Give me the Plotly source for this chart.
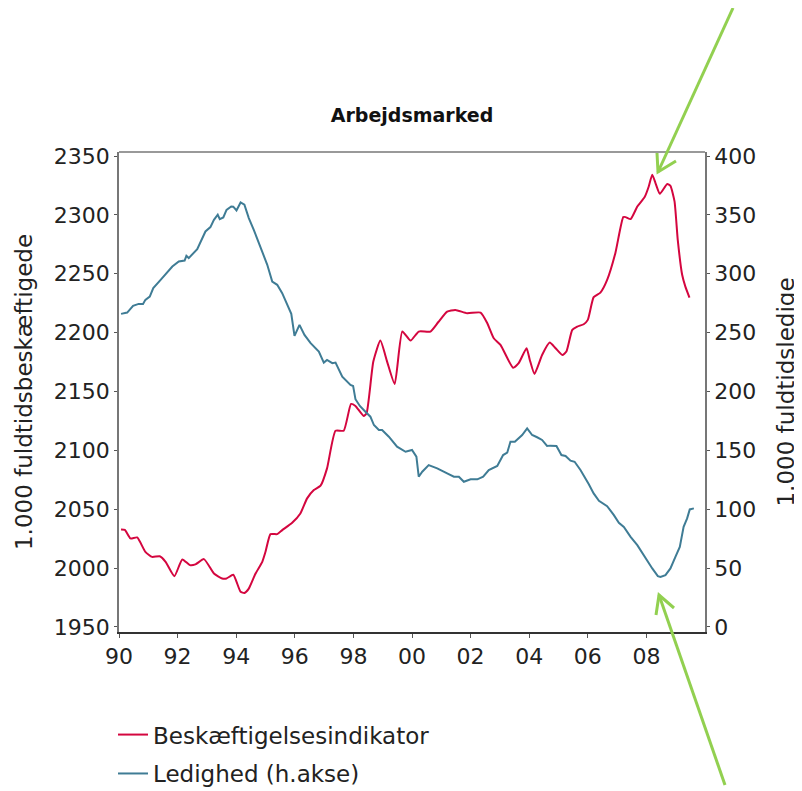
import plotly.graph_objects as go

# Beskæftigelsesindikator (left axis, 1.000 fuldtidsbeskæftigede)
besk_year = [1990.07, 1990.2, 1990.39, 1990.62, 1990.9, 1991.13, 1991.39, 1991.59, 1991.89, 1992.16,
             1992.42, 1992.61, 1992.9, 1993.24, 1993.52, 1993.67, 1993.9, 1994.15, 1994.28, 1994.43,
             1994.66, 1994.89, 1995.0, 1995.17, 1995.4, 1995.57, 1995.91, 1996.19, 1996.42, 1996.65,
             1996.88, 1997.1, 1997.39, 1997.67, 1997.92, 1998.07, 1998.35, 1998.45, 1998.68, 1998.92,
             1999.15, 1999.41, 1999.67, 1999.95, 2000.23, 2000.63, 2000.9, 2001.2, 2001.48, 2001.88,
             2002.34, 2002.57, 2002.79, 2003.02, 2003.45, 2003.64, 2003.91, 2004.02, 2004.18, 2004.44,
             2004.7, 2004.9, 2005.13, 2005.27, 2005.47, 2005.64, 2005.86, 2006.0, 2006.2, 2006.43,
             2006.66, 2006.94, 2007.21, 2007.29, 2007.46, 2007.69, 2007.94, 2008.08, 2008.2, 2008.31,
             2008.46, 2008.71, 2008.82, 2008.96, 2009.07, 2009.22, 2009.33, 2009.47]
besk_val = [2032.8, 2032.5, 2025.2, 2026.0, 2013.8, 2009.5, 2010.0, 2005.3, 1993.1, 2007.3,
            2002.5, 2003.1, 2007.6, 1995.4, 1991.2, 1991.2, 1994.3, 1979.8, 1978.9, 1982.6,
            1995.4, 2005.3, 2013.8, 2028.8, 2028.8, 2032.2, 2038.5, 2046.4, 2059.2, 2066.3,
            2070.0, 2084.7, 2116.7, 2116.7, 2139.4, 2137.7, 2129.2, 2131.5, 2175.4, 2193.2,
            2175.4, 2156.4, 2200.9, 2193.2, 2200.9, 2200.9, 2209.0, 2217.9, 2219.3, 2216.5,
            2217.0, 2208.0, 2195.2, 2189.6, 2170.2, 2174.0, 2186.7, 2176.8, 2164.9, 2181.0,
            2191.5, 2186.7, 2181.0, 2183.9, 2202.3, 2205.1, 2207.1, 2210.8, 2230.1, 2234.0,
            2244.8, 2267.5, 2298.1, 2298.1, 2296.4, 2307.1, 2315.1, 2324.1, 2334.1, 2327.0,
            2317.9, 2326.2, 2324.7, 2311.4, 2278.8, 2249.1, 2239.1, 2229.8]

# Ledighed (right axis, 1.000 fuldtidsledige)
led_year = [1990.07, 1990.28, 1990.48, 1990.67, 1990.82, 1990.9, 1991.05, 1991.17, 1991.42, 1991.65,
            1991.82, 1992.04, 1992.24, 1992.3, 1992.38, 1992.67, 1992.95, 1993.12, 1993.24, 1993.37,
            1993.44, 1993.56, 1993.67, 1993.83, 1993.9, 1994.01, 1994.15, 1994.28, 1994.43, 1994.6,
            1994.83, 1995.06, 1995.23, 1995.4, 1995.57, 1995.74, 1995.88, 1995.99, 1996.16, 1996.33,
            1996.54, 1996.82, 1996.99, 1997.1, 1997.28, 1997.39, 1997.62, 1997.9, 1997.99, 1998.07,
            1998.22, 1998.41, 1998.58, 1998.7, 1998.87, 1998.98, 1999.21, 1999.49, 1999.78, 2000.0,
            2000.15, 2000.23, 2000.35, 2000.57, 2000.86, 2001.2, 2001.43, 2001.6, 2001.77, 2002.0,
            2002.23, 2002.43, 2002.62, 2002.91, 2003.11, 2003.25, 2003.36, 2003.51, 2003.76, 2003.93,
            2004.1, 2004.27, 2004.44, 2004.61, 2004.72, 2004.93, 2005.1, 2005.24, 2005.41, 2005.55,
            2005.75, 2006.03, 2006.2, 2006.38, 2006.66, 2006.89, 2007.06, 2007.23, 2007.46, 2007.69,
            2007.97, 2008.2, 2008.39, 2008.48, 2008.65, 2008.82, 2008.99, 2009.14, 2009.27, 2009.39,
            2009.48, 2009.62]
led_val = [265.9, 267.0, 272.7, 274.4, 274.4, 277.8, 280.6, 287.8, 294.8, 301.0,
           306.1, 310.4, 311.2, 315.2, 313.3, 320.9, 335.9, 339.6, 345.8, 350.1,
           346.4, 347.8, 354.3, 357.1, 357.0, 353.7, 360.5, 358.6, 347.3, 337.3,
           321.8, 307.6, 293.4, 290.6, 283.5, 273.0, 265.9, 247.2, 256.6, 248.0,
           241.0, 233.9, 224.5, 226.8, 224.0, 224.5, 212.6, 205.5, 204.7, 193.4,
           187.7, 182.8, 178.6, 171.5, 167.3, 167.3, 161.6, 153.1, 148.8, 150.3,
           144.6, 127.6, 131.8, 137.5, 134.7, 130.5, 127.6, 127.6, 123.3, 125.4,
           125.4, 127.6, 133.3, 136.7, 146.0, 148.0, 157.3, 157.3, 163.0, 168.7,
           163.0, 161.1, 158.8, 153.7, 154.0, 153.7, 146.0, 145.2, 141.2, 140.3,
           133.3, 121.4, 113.4, 107.2, 102.6, 95.0, 88.5, 85.0, 76.5, 69.5,
           58.2, 49.7, 43.1, 42.5, 44.0, 49.7, 59.5, 68.0, 85.0, 92.2,
           99.8, 100.7]

x_tickvals = [1990, 1992, 1994, 1996, 1998, 2000, 2002, 2004, 2006, 2008]
x_ticktext = ["90", "92", "94", "96", "98", "00", "02", "04", "06", "08"]
left_ticks = [1950, 2000, 2050, 2100, 2150, 2200, 2250, 2300, 2350]
right_ticks = [0, 50, 100, 150, 200, 250, 300, 350, 400]

RED = "#D4063F"
BLUE = "#3F7C95"
GREEN = "#92D050"
FONT = "DejaVu Sans"

# page offset of the plot div (default body margin)
OFF = 8
FIG_H = 810

fig = go.Figure()
fig.add_trace(go.Scatter(x=besk_year, y=besk_val, mode="lines", name="Beskæftigelsesindikator",
                         line=dict(color=RED, width=2, shape="spline", smoothing=0.5),
                         legendgroup="a"))
fig.add_trace(go.Scatter(x=led_year, y=led_val, mode="lines", name="Ledighed (h.akse)",
                         line=dict(color=BLUE, width=2), yaxis="y2", legendgroup="b"))

fig.update_layout(
    width=802, height=FIG_H,
    margin=dict(l=119 - OFF, r=97 + OFF, t=152 - OFF, b=FIG_H + OFF - 632),
    paper_bgcolor="white", plot_bgcolor="white",
    font=dict(family=FONT, size=22, color="#222222"),
    title=dict(text="<b>Arbejdsmarked</b>", x=(412 - OFF) / 802, xanchor="center",
               y=1 - (115 - OFF) / FIG_H, yanchor="middle", yref="container",
               font=dict(family=FONT, size=19, color="#111111")),
    xaxis=dict(range=[1990, 2010], tickvals=x_tickvals, ticktext=x_ticktext,
               showgrid=False, zeroline=False, showline=True, linecolor="#333333", linewidth=1.5,
               ticks="outside", ticklen=4, tickcolor="#555555", mirror=False,
               tickfont=dict(size=22)),
    yaxis=dict(range=[1945.7, 2353.4], tickvals=left_ticks, showgrid=False, zeroline=False,
               showline=True, linecolor="#777777", linewidth=1.5, ticks="outside", ticklen=3,
               tickcolor="#555555", tickfont=dict(size=22),
               title=dict(text="1.000 fuldtidsbeskæftigede", font=dict(size=23), standoff=15)),
    yaxis2=dict(range=[-4.3, 403.4], tickvals=right_ticks, overlaying="y", side="right",
                showgrid=False, zeroline=False, showline=True, linecolor="#777777", linewidth=1.5,
                ticks="outside", ticklen=3, tickcolor="#555555", tickfont=dict(size=22),
                title=dict(text="1.000 fuldtidsledige", font=dict(size=23), standoff=23)),
    legend=dict(x=-0.0102, y=-0.169, xanchor="left", yanchor="top", orientation="v",
                font=dict(size=23), tracegroupgap=6, bgcolor="rgba(0,0,0,0)"),
    showlegend=True,
)

# top border of plot area
fig.add_shape(type="line", xref="paper", yref="paper", x0=0, x1=1, y0=1, y1=1,
              line=dict(color="#777777", width=1.5))

# green arrows (page pixel positions converted to paper coordinates)
def px(x):
    return (x - 119) / 586

def py(y):
    return (632 - y) / 480

arrows = [
    [(733, 8), (658, 172)],
    [(657, 153), (658, 172), (676, 161)],
    [(725, 785), (659, 595)],
    [(656, 615), (659, 595), (674, 608)],
]
for pts in arrows:
    path = "M " + " L ".join(f"{px(a)},{py(b)}" for a, b in pts)
    fig.add_shape(type="path", path=path, xref="paper", yref="paper",
                  line=dict(color=GREEN, width=3))

fig.write_html("out.html")
